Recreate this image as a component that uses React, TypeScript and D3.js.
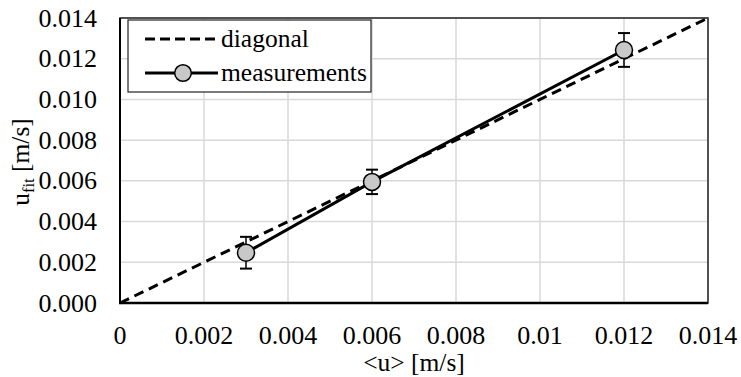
import React, { useEffect, useRef } from 'react';
import * as d3 from 'd3';

const xTicks = [0, 0.002, 0.004, 0.006, 0.008, 0.01, 0.012, 0.014];
const xTickLabels = ['0', '0.002', '0.004', '0.006', '0.008', '0.01', '0.012', '0.014'];
const yTicks = [0, 0.002, 0.004, 0.006, 0.008, 0.01, 0.012, 0.014];
const yTickLabels = ['0.000', '0.002', '0.004', '0.006', '0.008', '0.010', '0.012', '0.014'];

const diagonalX = [0, 0.014];
const measuredU = [0.003, 0.006, 0.012];
const measuredFit = [0.00247, 0.00595, 0.01243];
const measuredErr = [0.00078, 0.0006, 0.00083];

const App = () => {
  const svgRef = useRef<SVGSVGElement>(null);

  useEffect(() => {
    const width = 741;
    const height = 377;
    const margin = { top: 18, right: 33, bottom: 74, left: 120 };
    const font = "'Liberation Serif', 'Times New Roman', serif";
    const fs = 25.5;

    const svg = d3.select(svgRef.current).attr('width', width).attr('height', height);
    svg.selectAll('*').remove();

    const x = d3.scaleLinear().domain([0, 0.014]).range([margin.left, width - margin.right]);
    const y = d3.scaleLinear().domain([0, 0.014]).range([height - margin.bottom, margin.top]);

    // grid
    svg.append('g')
      .selectAll('line')
      .data(xTicks.slice(1))
      .enter()
      .append('line')
      .attr('x1', d => x(d)).attr('x2', d => x(d))
      .attr('y1', y(0)).attr('y2', y(0.014))
      .attr('stroke', '#d9d9d9').attr('stroke-width', 1.5);
    svg.append('g')
      .selectAll('line')
      .data(yTicks.slice(1))
      .enter()
      .append('line')
      .attr('x1', x(0)).attr('x2', x(0.014))
      .attr('y1', d => y(d)).attr('y2', d => y(d))
      .attr('stroke', '#d9d9d9').attr('stroke-width', 1.5);

    // plot border
    svg.append('rect')
      .attr('x', x(0)).attr('y', y(0.014))
      .attr('width', x(0.014) - x(0)).attr('height', y(0) - y(0.014))
      .attr('fill', 'none').attr('stroke', '#222').attr('stroke-width', 1.5);
    svg.append('line')
      .attr('x1', x(0)).attr('x2', x(0))
      .attr('y1', y(0)).attr('y2', y(0.014))
      .attr('stroke', '#000').attr('stroke-width', 2);
    svg.append('line')
      .attr('x1', x(0) - 1).attr('x2', x(0.014))
      .attr('y1', y(0)).attr('y2', y(0))
      .attr('stroke', '#000').attr('stroke-width', 2.5);

    // tick labels
    svg.append('g')
      .selectAll('text')
      .data(xTicks)
      .enter()
      .append('text')
      .attr('x', d => x(d))
      .attr('y', y(0) + 41)
      .attr('text-anchor', 'middle')
      .style('font-family', font).attr('font-size', 26)
      .text((d, i) => xTickLabels[i]);
    svg.append('g')
      .selectAll('text')
      .data(yTicks)
      .enter()
      .append('text')
      .attr('x', 97)
      .attr('y', d => y(d) + 8.5)
      .attr('text-anchor', 'end')
      .style('font-family', font).attr('font-size', 26)
      .text((d, i) => yTickLabels[i]);

    // axis titles
    svg.append('text')
      .attr('x', (x(0) + x(0.014)) / 2)
      .attr('y', 371)
      .attr('text-anchor', 'middle')
      .style('font-family', font).attr('font-size', fs)
      .text('<u> [m/s]');
    const yt = svg.append('text')
      .attr('transform', `translate(29,162) rotate(-90)`)
      .attr('text-anchor', 'middle')
      .style('font-family', font).attr('font-size', fs);
    yt.append('tspan').text('u');
    yt.append('tspan').attr('font-size', 16.5).attr('dy', 5).text('fit');
    yt.append('tspan').attr('dy', -5).text(' [m/s]');

    // diagonal
    svg.append('path')
      .datum(diagonalX)
      .attr('d', d3.line<number>().x(d => x(d)).y(d => y(d)))
      .attr('fill', 'none').attr('stroke', '#000')
      .attr('stroke-width', 3).attr('stroke-dasharray', '10,6');

    // measurements
    const pts = measuredU.map((u, i) => ({ u, v: measuredFit[i], e: measuredErr[i] }));
    svg.append('path')
      .datum(pts)
      .attr('d', d3.line<any>().x(d => x(d.u)).y(d => y(d.v)))
      .attr('fill', 'none').attr('stroke', '#000').attr('stroke-width', 3);

    const eb = svg.append('g').selectAll('g').data(pts).enter().append('g');
    eb.append('line')
      .attr('x1', d => x(d.u)).attr('x2', d => x(d.u))
      .attr('y1', d => y(d.v - d.e)).attr('y2', d => y(d.v + d.e))
      .attr('stroke', '#000').attr('stroke-width', 1.5);
    eb.append('line')
      .attr('x1', d => x(d.u) - 6).attr('x2', d => x(d.u) + 6)
      .attr('y1', d => y(d.v - d.e)).attr('y2', d => y(d.v - d.e))
      .attr('stroke', '#000').attr('stroke-width', 2);
    eb.append('line')
      .attr('x1', d => x(d.u) - 6).attr('x2', d => x(d.u) + 6)
      .attr('y1', d => y(d.v + d.e)).attr('y2', d => y(d.v + d.e))
      .attr('stroke', '#000').attr('stroke-width', 2);
    eb.append('circle')
      .attr('cx', d => x(d.u)).attr('cy', d => y(d.v)).attr('r', 8.5)
      .attr('fill', '#c8c8c8').attr('stroke', '#000').attr('stroke-width', 1.5);

    // legend
    const lg = svg.append('g');
    lg.append('rect')
      .attr('x', 128).attr('y', 20).attr('width', 243).attr('height', 72)
      .attr('fill', '#fff').attr('stroke', '#222').attr('stroke-width', 1.2);
    lg.append('line')
      .attr('x1', 145).attr('x2', 218).attr('y1', 39).attr('y2', 39)
      .attr('stroke', '#000').attr('stroke-width', 3).attr('stroke-dasharray', '10,5');
    lg.append('text')
      .attr('x', 221).attr('y', 47)
      .style('font-family', font).attr('font-size', fs)
      .text('diagonal');
    lg.append('line')
      .attr('x1', 145).attr('x2', 218).attr('y1', 73).attr('y2', 73)
      .attr('stroke', '#000').attr('stroke-width', 3);
    lg.append('circle')
      .attr('cx', 183).attr('cy', 73).attr('r', 8.3)
      .attr('fill', '#c8c8c8').attr('stroke', '#000').attr('stroke-width', 1.5);
    lg.append('text')
      .attr('x', 221).attr('y', 81)
      .style('font-family', font).attr('font-size', fs)
      .text('measurements');
  }, []);

  return <svg ref={svgRef} style={{ position: 'absolute', left: 0, top: 0 }}></svg>;
};

export default App;
